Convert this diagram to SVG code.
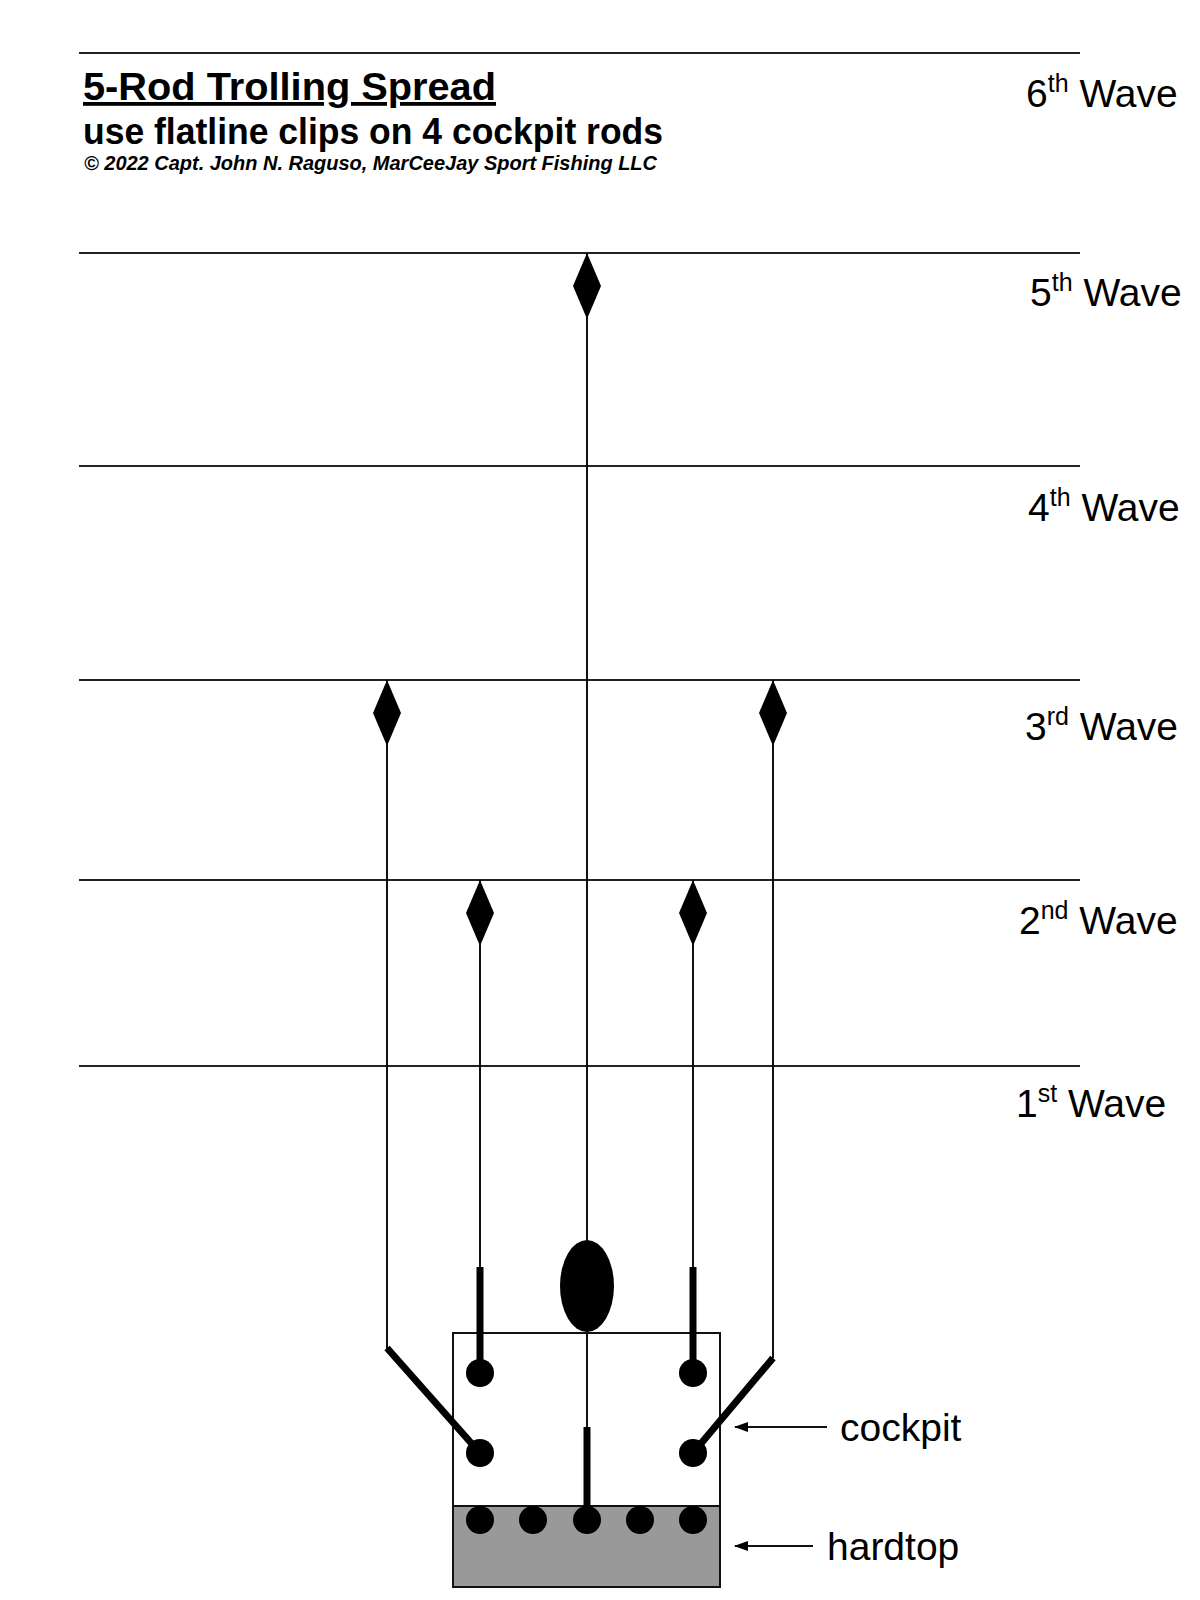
<svg xmlns="http://www.w3.org/2000/svg" width="1200" height="1600" viewBox="0 0 1200 1600">
<style>
text{font-family:"Liberation Sans",Arial,sans-serif;fill:#000}
.wave{stroke:#222;stroke-width:2.2;fill:none}
.thin{stroke:#111;stroke-width:2;fill:none}
.rod{stroke:#000;stroke-width:7;fill:none}
.dia{fill:#000}
.dot{fill:#000}
.lbl{font-size:39px}
.sup{font-size:25px}
.side{font-size:39px}
</style>
<defs>
<marker id="ah" viewBox="0 0 14 10" refX="13" refY="5" markerWidth="14" markerHeight="10" markerUnits="userSpaceOnUse" orient="auto">
<path d="M14,5 L0,0 L0,10 Z" fill="#000"/>
</marker>
</defs>
<rect width="1200" height="1600" fill="#fff"/>

<g id="header">
<text x="83" y="100" font-size="38" font-weight="bold" text-decoration="underline" textLength="413" lengthAdjust="spacingAndGlyphs">5-Rod Trolling Spread</text>
<text x="83" y="144" font-size="36" font-weight="bold" textLength="580" lengthAdjust="spacingAndGlyphs">use flatline clips on 4 cockpit rods</text>
<text x="84" y="170" font-size="19.5" font-weight="bold" font-style="italic" textLength="573" lengthAdjust="spacingAndGlyphs">© 2022 Capt. John N. Raguso, MarCeeJay Sport Fishing LLC</text>
</g>

<g id="wave-lines">
<line class="wave" x1="79" y1="53" x2="1080" y2="53"/>
<line class="wave" x1="79" y1="253" x2="1080" y2="253"/>
<line class="wave" x1="79" y1="466" x2="1080" y2="466"/>
<line class="wave" x1="79" y1="680" x2="1080" y2="680"/>
<line class="wave" x1="79" y1="880" x2="1080" y2="880"/>
<line class="wave" x1="79" y1="1066" x2="1080" y2="1066"/>
</g>

<g id="wave-labels">
<text class="lbl" x="1026" y="107">6<tspan class="sup" dy="-15">th</tspan><tspan dy="15"> Wave</tspan></text>
<text class="lbl" x="1030" y="306">5<tspan class="sup" dy="-15">th</tspan><tspan dy="15"> Wave</tspan></text>
<text class="lbl" x="1028" y="521">4<tspan class="sup" dy="-15">th</tspan><tspan dy="15"> Wave</tspan></text>
<text class="lbl" x="1025" y="740">3<tspan class="sup" dy="-15">rd</tspan><tspan dy="15"> Wave</tspan></text>
<text class="lbl" x="1019" y="934">2<tspan class="sup" dy="-15">nd</tspan><tspan dy="15"> Wave</tspan></text>
<text class="lbl" x="1016" y="1117">1<tspan class="sup" dy="-15">st</tspan><tspan dy="15"> Wave</tspan></text>
</g>

<g id="cockpit">
<rect x="453" y="1333" width="267" height="173" fill="#fff" stroke="#111" stroke-width="2"/>
</g>
<g id="hardtop">
<rect x="453" y="1506" width="267" height="81" fill="#999" stroke="#111" stroke-width="2"/>
</g>

<g id="connectors">
<line class="thin" x1="587" y1="253" x2="587" y2="1506"/>
<line class="thin" x1="387" y1="680" x2="387" y2="1350"/>
<line class="thin" x1="773" y1="680" x2="773" y2="1358"/>
<line class="thin" x1="480" y1="880" x2="480" y2="1268"/>
<line class="thin" x1="693" y1="880" x2="693" y2="1268"/>
<line class="thin" x1="827" y1="1427" x2="735" y2="1427" marker-end="url(#ah)"/>
<line class="thin" x1="813" y1="1546" x2="735" y2="1546" marker-end="url(#ah)"/>
</g>

<g id="lures">
<path class="dia" d="M587,253 L601,286 L587,319 L573,286 Z"/>
<path class="dia" d="M387,680 L401,713 L387,746 L373,713 Z"/>
<path class="dia" d="M773,680 L787,713 L773,746 L759,713 Z"/>
<path class="dia" d="M480,880 L494,913 L480,946 L466,913 Z"/>
<path class="dia" d="M693,880 L707,913 L693,946 L679,913 Z"/>
</g>

<g id="teaser">
<ellipse cx="587" cy="1286" rx="27" ry="46" fill="#000"/>
</g>

<g id="rods">
<line class="rod" x1="480" y1="1267" x2="480" y2="1373"/>
<line class="rod" x1="693" y1="1267" x2="693" y2="1373"/>
<line class="rod" x1="387" y1="1348" x2="480" y2="1453"/>
<line class="rod" x1="773" y1="1358" x2="693" y2="1453"/>
<line class="rod" x1="587" y1="1427" x2="587" y2="1510"/>
</g>

<g id="rod-holders">
<circle class="dot" cx="480" cy="1373" r="14"/>
<circle class="dot" cx="693" cy="1373" r="14"/>
<circle class="dot" cx="480" cy="1453" r="14"/>
<circle class="dot" cx="693" cy="1453" r="14"/>
<circle class="dot" cx="480" cy="1520" r="14"/>
<circle class="dot" cx="533" cy="1520" r="14"/>
<circle class="dot" cx="587" cy="1520" r="14"/>
<circle class="dot" cx="640" cy="1520" r="14"/>
<circle class="dot" cx="693" cy="1520" r="14"/>
</g>

<g id="labels">
<text class="side" x="840" y="1441">cockpit</text>
<text class="side" x="827" y="1560">hardtop</text>
</g>
</svg>
